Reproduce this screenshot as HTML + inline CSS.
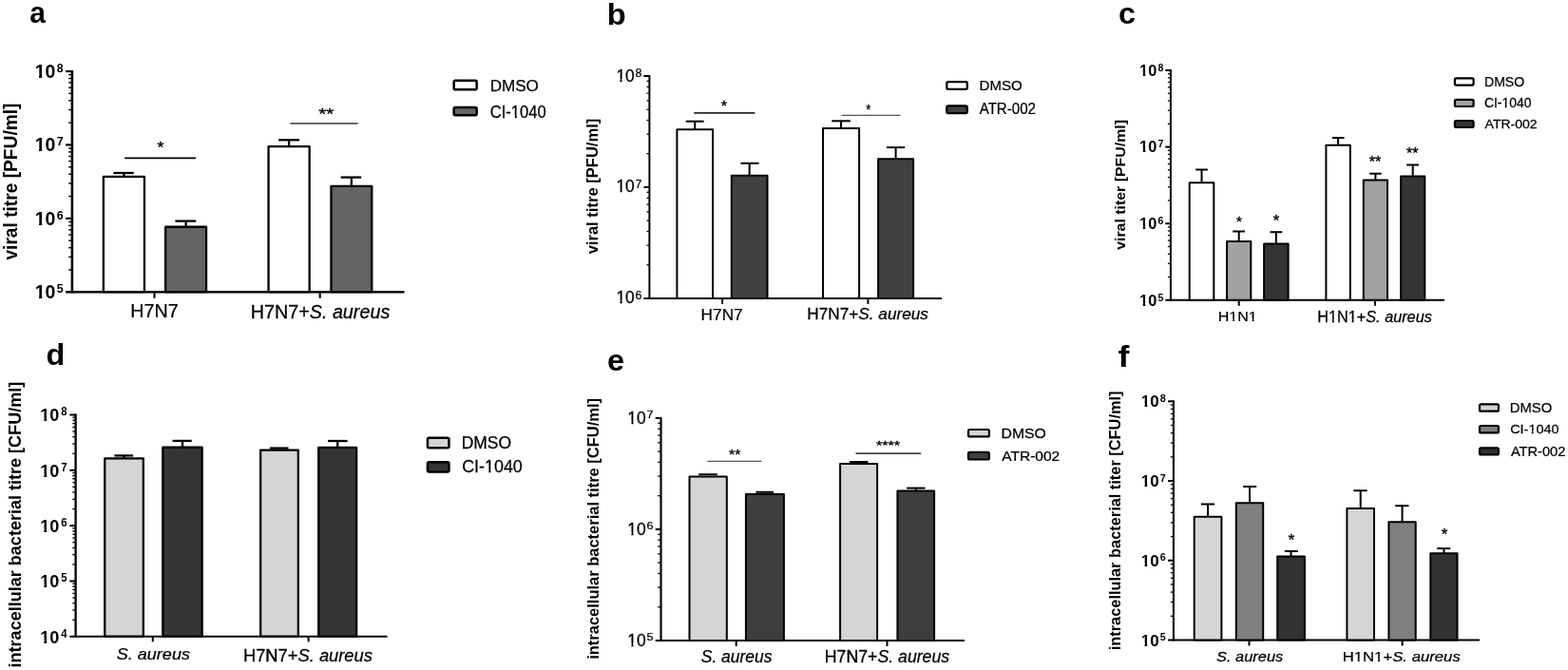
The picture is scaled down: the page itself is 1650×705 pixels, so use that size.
<!DOCTYPE html>
<html><head><meta charset="utf-8"><title>Figure</title>
<style>
html,body{margin:0;padding:0;background:#fff;}
body{width:1650px;height:705px;overflow:hidden;}
svg{display:block;font-family:'Liberation Sans', Arial, Helvetica, sans-serif;}
text{fill:#000;}
text:not([font-weight]):not([stroke]){stroke:#000;stroke-width:0.25px;}
</style></head><body>
<svg width="1650" height="705" viewBox="0 0 1650 705">
<rect width="1650" height="705" fill="#fff"/>
<line x1="75.9" y1="73.9" x2="75.9" y2="308.5" stroke="#000" stroke-width="2.6"/>
<line x1="69.1" y1="229.87" x2="75.9" y2="229.87" stroke="#000" stroke-width="2.2"/>
<line x1="69.1" y1="152.43" x2="75.9" y2="152.43" stroke="#000" stroke-width="2.2"/>
<line x1="69.1" y1="75" x2="75.9" y2="75" stroke="#000" stroke-width="2.2"/>
<line x1="72.2" y1="283.99" x2="75.9" y2="283.99" stroke="#000" stroke-width="1.4"/>
<line x1="72.2" y1="270.36" x2="75.9" y2="270.36" stroke="#000" stroke-width="1.4"/>
<line x1="72.2" y1="260.68" x2="75.9" y2="260.68" stroke="#000" stroke-width="1.4"/>
<line x1="72.2" y1="253.18" x2="75.9" y2="253.18" stroke="#000" stroke-width="1.4"/>
<line x1="72.2" y1="247.05" x2="75.9" y2="247.05" stroke="#000" stroke-width="1.4"/>
<line x1="72.2" y1="241.86" x2="75.9" y2="241.86" stroke="#000" stroke-width="1.4"/>
<line x1="72.2" y1="237.37" x2="75.9" y2="237.37" stroke="#000" stroke-width="1.4"/>
<line x1="72.2" y1="233.41" x2="75.9" y2="233.41" stroke="#000" stroke-width="1.4"/>
<line x1="72.2" y1="206.56" x2="75.9" y2="206.56" stroke="#000" stroke-width="1.4"/>
<line x1="72.2" y1="192.92" x2="75.9" y2="192.92" stroke="#000" stroke-width="1.4"/>
<line x1="72.2" y1="183.25" x2="75.9" y2="183.25" stroke="#000" stroke-width="1.4"/>
<line x1="72.2" y1="175.74" x2="75.9" y2="175.74" stroke="#000" stroke-width="1.4"/>
<line x1="72.2" y1="169.61" x2="75.9" y2="169.61" stroke="#000" stroke-width="1.4"/>
<line x1="72.2" y1="164.43" x2="75.9" y2="164.43" stroke="#000" stroke-width="1.4"/>
<line x1="72.2" y1="159.93" x2="75.9" y2="159.93" stroke="#000" stroke-width="1.4"/>
<line x1="72.2" y1="155.97" x2="75.9" y2="155.97" stroke="#000" stroke-width="1.4"/>
<line x1="72.2" y1="129.12" x2="75.9" y2="129.12" stroke="#000" stroke-width="1.4"/>
<line x1="72.2" y1="115.49" x2="75.9" y2="115.49" stroke="#000" stroke-width="1.4"/>
<line x1="72.2" y1="105.81" x2="75.9" y2="105.81" stroke="#000" stroke-width="1.4"/>
<line x1="72.2" y1="98.31" x2="75.9" y2="98.31" stroke="#000" stroke-width="1.4"/>
<line x1="72.2" y1="92.18" x2="75.9" y2="92.18" stroke="#000" stroke-width="1.4"/>
<line x1="72.2" y1="86.99" x2="75.9" y2="86.99" stroke="#000" stroke-width="1.4"/>
<line x1="72.2" y1="82.5" x2="75.9" y2="82.5" stroke="#000" stroke-width="1.4"/>
<line x1="72.2" y1="78.54" x2="75.9" y2="78.54" stroke="#000" stroke-width="1.4"/>
<line x1="69.1" y1="307.3" x2="425.5" y2="307.3" stroke="#000" stroke-width="2.4"/>
<line x1="162.5" y1="307.3" x2="162.5" y2="313.8" stroke="#000" stroke-width="2"/>
<line x1="336.7" y1="307.3" x2="336.7" y2="313.8" stroke="#000" stroke-width="2"/>
<clipPath id="c1"><rect x="-50" y="-200" width="2000" height="196.52"/><rect x="-50" y="-3.48" width="0" height="300"/><rect x="4.34" y="-3.48" width="3.07" height="300"/><rect x="11.31" y="-3.48" width="2000" height="300"/></clipPath>
<text transform="translate(36.73,314.01) scale(1.004,1)" font-size="19.44" font-weight="bold" clip-path="url(#c1)">10</text>
<text transform="translate(59.83,307.97) scale(0.927,1)" font-size="13.38" font-weight="bold">5</text>
<clipPath id="c2"><rect x="-50" y="-200" width="2000" height="196.52"/><rect x="-50" y="-3.48" width="0" height="300"/><rect x="4.34" y="-3.48" width="3.07" height="300"/><rect x="11.31" y="-3.48" width="2000" height="300"/></clipPath>
<text transform="translate(36.73,236.58) scale(1.004,1)" font-size="19.44" font-weight="bold" clip-path="url(#c2)">10</text>
<text transform="translate(59.83,230.54) scale(0.927,1)" font-size="13.38" font-weight="bold">6</text>
<clipPath id="c3"><rect x="-50" y="-200" width="2000" height="196.52"/><rect x="-50" y="-3.48" width="0" height="300"/><rect x="4.34" y="-3.48" width="3.07" height="300"/><rect x="11.31" y="-3.48" width="2000" height="300"/></clipPath>
<text transform="translate(36.73,159.14) scale(1.004,1)" font-size="19.44" font-weight="bold" clip-path="url(#c3)">10</text>
<text transform="translate(59.83,153.1) scale(0.927,1)" font-size="13.38" font-weight="bold">7</text>
<clipPath id="c4"><rect x="-50" y="-200" width="2000" height="196.52"/><rect x="-50" y="-3.48" width="0" height="300"/><rect x="4.34" y="-3.48" width="3.07" height="300"/><rect x="11.31" y="-3.48" width="2000" height="300"/></clipPath>
<text transform="translate(36.73,81.71) scale(1.004,1)" font-size="19.44" font-weight="bold" clip-path="url(#c4)">10</text>
<text transform="translate(59.83,75.67) scale(0.927,1)" font-size="13.38" font-weight="bold">8</text>
<line x1="130.4" y1="187" x2="130.4" y2="182" stroke="#000" stroke-width="2.3"/>
<line x1="119.4" y1="182" x2="140.7" y2="182" stroke="#000" stroke-width="2.3"/>
<rect x="108.85" y="185.85" width="43.1" height="121.3" fill="#fff" stroke="#000" stroke-width="2.3" stroke-linejoin="round"/>
<line x1="195.6" y1="239.9" x2="195.6" y2="232.6" stroke="#000" stroke-width="2.3"/>
<line x1="184.4" y1="232.6" x2="206.3" y2="232.6" stroke="#000" stroke-width="2.3"/>
<rect x="174.15" y="238.75" width="42.9" height="68.4" fill="#636363" stroke="#000" stroke-width="2.3" stroke-linejoin="round"/>
<line x1="304.1" y1="155.3" x2="304.1" y2="147.3" stroke="#000" stroke-width="2.3"/>
<line x1="293.2" y1="147.3" x2="315.1" y2="147.3" stroke="#000" stroke-width="2.3"/>
<rect x="282.55" y="154.15" width="43.1" height="153" fill="#fff" stroke="#000" stroke-width="2.3" stroke-linejoin="round"/>
<line x1="369.85" y1="197.1" x2="369.85" y2="186.6" stroke="#000" stroke-width="2.3"/>
<line x1="358.7" y1="186.6" x2="380.2" y2="186.6" stroke="#000" stroke-width="2.3"/>
<rect x="348.45" y="195.95" width="42.8" height="111.2" fill="#636363" stroke="#000" stroke-width="2.3" stroke-linejoin="round"/>
<line x1="131.1" y1="166.3" x2="206" y2="166.3" stroke="#000" stroke-width="1.7"/>
<line x1="305.3" y1="129.9" x2="376.7" y2="129.9" stroke="#555" stroke-width="1.6"/>
<text transform="translate(165.55,160.53) scale(1.069,1)" font-size="16.57" stroke="#000" stroke-width="0.35">*</text>
<text transform="translate(335.19,125.63) scale(1.198,1)" font-size="17.14" stroke="#000" stroke-width="0.35">**</text>
<text transform="translate(137.32,333.8) scale(1.007,1)" font-size="19.57">H7N7</text>
<text transform="translate(263.72,334.51) scale(1.024,1)" font-size="19.30">H7N7+<tspan font-style="italic">S. aureus</tspan></text>
<rect x="477.65" y="84.85" width="24" height="9.4" rx="1.5" fill="#fff" stroke="#000" stroke-width="2.5"/>
<text transform="translate(515.74,95.83)" font-size="17.04">DMSO</text>
<rect x="477.65" y="112.95" width="24" height="8.4" rx="1.5" fill="#676767" stroke="#000" stroke-width="2.5"/>
<clipPath id="c5"><rect x="-50" y="-200" width="2000" height="197.2"/><rect x="-50" y="-2.8" width="73.67" height="300"/><rect x="27.47" y="-2.8" width="1.94" height="300"/><rect x="33.08" y="-2.8" width="2000" height="300"/></clipPath>
<text transform="translate(515.77,123.93) scale(0.950,1)" font-size="17.46" clip-path="url(#c5)">CI-1040</text>
<text transform="translate(18.09,273.59) rotate(-90) scale(0.980,1)" font-size="19.57" font-weight="bold">viral titre [PFU/ml]</text>
<text transform="translate(31.3,23.79) scale(0.954,1)" font-size="31.45" font-weight="bold">a</text>
<line x1="683.4" y1="79" x2="683.4" y2="314.9" stroke="#000" stroke-width="2"/>
<line x1="677.4" y1="196.95" x2="683.4" y2="196.95" stroke="#000" stroke-width="2"/>
<line x1="677.4" y1="80" x2="683.4" y2="80" stroke="#000" stroke-width="2"/>
<line x1="680.5" y1="278.69" x2="683.4" y2="278.69" stroke="#000" stroke-width="1.3"/>
<line x1="680.5" y1="258.1" x2="683.4" y2="258.1" stroke="#000" stroke-width="1.3"/>
<line x1="680.5" y1="243.49" x2="683.4" y2="243.49" stroke="#000" stroke-width="1.3"/>
<line x1="680.5" y1="232.16" x2="683.4" y2="232.16" stroke="#000" stroke-width="1.3"/>
<line x1="680.5" y1="222.9" x2="683.4" y2="222.9" stroke="#000" stroke-width="1.3"/>
<line x1="680.5" y1="215.07" x2="683.4" y2="215.07" stroke="#000" stroke-width="1.3"/>
<line x1="680.5" y1="208.28" x2="683.4" y2="208.28" stroke="#000" stroke-width="1.3"/>
<line x1="680.5" y1="202.3" x2="683.4" y2="202.3" stroke="#000" stroke-width="1.3"/>
<line x1="680.5" y1="161.74" x2="683.4" y2="161.74" stroke="#000" stroke-width="1.3"/>
<line x1="680.5" y1="141.15" x2="683.4" y2="141.15" stroke="#000" stroke-width="1.3"/>
<line x1="680.5" y1="126.54" x2="683.4" y2="126.54" stroke="#000" stroke-width="1.3"/>
<line x1="680.5" y1="115.21" x2="683.4" y2="115.21" stroke="#000" stroke-width="1.3"/>
<line x1="680.5" y1="105.95" x2="683.4" y2="105.95" stroke="#000" stroke-width="1.3"/>
<line x1="680.5" y1="98.12" x2="683.4" y2="98.12" stroke="#000" stroke-width="1.3"/>
<line x1="680.5" y1="91.33" x2="683.4" y2="91.33" stroke="#000" stroke-width="1.3"/>
<line x1="680.5" y1="85.35" x2="683.4" y2="85.35" stroke="#000" stroke-width="1.3"/>
<line x1="677.4" y1="313.9" x2="991" y2="313.9" stroke="#000" stroke-width="2"/>
<line x1="760.1" y1="313.9" x2="760.1" y2="319.9" stroke="#000" stroke-width="2"/>
<line x1="913.4" y1="313.9" x2="913.4" y2="319.9" stroke="#000" stroke-width="2"/>
<clipPath id="c6"><rect x="-50" y="-200" width="2000" height="197.17"/><rect x="-50" y="-2.83" width="0" height="300"/><rect x="4.26" y="-2.83" width="1.97" height="300"/><rect x="9.96" y="-2.83" width="2000" height="300"/></clipPath>
<text transform="translate(648.41,319.42) scale(0.979,1)" font-size="17.75" clip-path="url(#c6)">10</text>
<text transform="translate(668.61,314.58) scale(1.019,1)" font-size="12.11">6</text>
<clipPath id="c7"><rect x="-50" y="-200" width="2000" height="197.17"/><rect x="-50" y="-2.83" width="0" height="300"/><rect x="4.26" y="-2.83" width="1.97" height="300"/><rect x="9.96" y="-2.83" width="2000" height="300"/></clipPath>
<text transform="translate(648.41,202.47) scale(0.979,1)" font-size="17.75" clip-path="url(#c7)">10</text>
<text transform="translate(668.61,197.63) scale(1.019,1)" font-size="12.11">7</text>
<clipPath id="c8"><rect x="-50" y="-200" width="2000" height="197.17"/><rect x="-50" y="-2.83" width="0" height="300"/><rect x="4.26" y="-2.83" width="1.97" height="300"/><rect x="9.96" y="-2.83" width="2000" height="300"/></clipPath>
<text transform="translate(648.41,85.52) scale(0.979,1)" font-size="17.75" clip-path="url(#c8)">10</text>
<text transform="translate(668.61,80.68) scale(1.019,1)" font-size="12.11">8</text>
<line x1="731.25" y1="137.2" x2="731.25" y2="127.7" stroke="#000" stroke-width="2"/>
<line x1="721.7" y1="127.7" x2="740.7" y2="127.7" stroke="#000" stroke-width="2"/>
<rect x="712.4" y="136.2" width="37.7" height="177.7" fill="#fff" stroke="#000" stroke-width="2" stroke-linejoin="round"/>
<line x1="788.65" y1="185.7" x2="788.65" y2="171.8" stroke="#000" stroke-width="2"/>
<line x1="779.5" y1="171.8" x2="798.6" y2="171.8" stroke="#000" stroke-width="2"/>
<rect x="769.8" y="184.7" width="37.7" height="129.2" fill="#414141" stroke="#000" stroke-width="2" stroke-linejoin="round"/>
<line x1="885.05" y1="136" x2="885.05" y2="127.3" stroke="#000" stroke-width="2"/>
<line x1="875.3" y1="127.3" x2="894.8" y2="127.3" stroke="#000" stroke-width="2"/>
<rect x="866" y="135" width="38.1" height="178.9" fill="#fff" stroke="#000" stroke-width="2" stroke-linejoin="round"/>
<line x1="942.6" y1="168.2" x2="942.6" y2="155.1" stroke="#000" stroke-width="2"/>
<line x1="933" y1="155.1" x2="952.2" y2="155.1" stroke="#000" stroke-width="2"/>
<rect x="924.1" y="167.2" width="37" height="146.7" fill="#414141" stroke="#000" stroke-width="2" stroke-linejoin="round"/>
<line x1="730.3" y1="118.9" x2="794.4" y2="118.9" stroke="#282828" stroke-width="1.8"/>
<line x1="885.5" y1="121.4" x2="947.5" y2="121.4" stroke="#555" stroke-width="1.2"/>
<text transform="translate(758.67,116.16) scale(1.184,1)" font-size="14.00" stroke="#000" stroke-width="0.35">*</text>
<text transform="translate(911.14,119.76) scale(0.920,1)" font-size="14.29" stroke="#000" stroke-width="0.35">*</text>
<text transform="translate(737.62,336.5) scale(1.017,1)" font-size="16.96">H7N7</text>
<text transform="translate(849.32,336.34) scale(1.044,1)" font-size="16.48">H7N7+<tspan font-style="italic">S. aureus</tspan></text>
<rect x="996.3" y="86.1" width="21.5" height="7.7" rx="1.5" fill="#fff" stroke="#000" stroke-width="2.2"/>
<text transform="translate(1030.6,94.95) scale(1.015,1)" font-size="14.79">DMSO</text>
<rect x="996.3" y="111.4" width="21.5" height="7.7" rx="1.5" fill="#414141" stroke="#000" stroke-width="2.2"/>
<text transform="translate(1030.7,120.34) scale(0.947,1)" font-size="15.92">ATR-002</text>
<text transform="translate(628.84,267.37) rotate(-90) scale(1.006,1)" font-size="16.49" font-weight="bold">viral titre [PFU/ml]</text>
<text transform="translate(638.72,25.6) scale(1.058,1)" font-size="30.82" font-weight="bold">b</text>
<line x1="1231.9" y1="73" x2="1231.9" y2="316.8" stroke="#000" stroke-width="2"/>
<line x1="1226.3" y1="235.2" x2="1231.9" y2="235.2" stroke="#000" stroke-width="2"/>
<line x1="1226.3" y1="154.6" x2="1231.9" y2="154.6" stroke="#000" stroke-width="2"/>
<line x1="1226.3" y1="74" x2="1231.9" y2="74" stroke="#000" stroke-width="2"/>
<line x1="1228.9" y1="291.54" x2="1231.9" y2="291.54" stroke="#000" stroke-width="1.3"/>
<line x1="1228.9" y1="277.34" x2="1231.9" y2="277.34" stroke="#000" stroke-width="1.3"/>
<line x1="1228.9" y1="267.27" x2="1231.9" y2="267.27" stroke="#000" stroke-width="1.3"/>
<line x1="1228.9" y1="259.46" x2="1231.9" y2="259.46" stroke="#000" stroke-width="1.3"/>
<line x1="1228.9" y1="253.08" x2="1231.9" y2="253.08" stroke="#000" stroke-width="1.3"/>
<line x1="1228.9" y1="247.69" x2="1231.9" y2="247.69" stroke="#000" stroke-width="1.3"/>
<line x1="1228.9" y1="243.01" x2="1231.9" y2="243.01" stroke="#000" stroke-width="1.3"/>
<line x1="1228.9" y1="238.89" x2="1231.9" y2="238.89" stroke="#000" stroke-width="1.3"/>
<line x1="1228.9" y1="210.94" x2="1231.9" y2="210.94" stroke="#000" stroke-width="1.3"/>
<line x1="1228.9" y1="196.74" x2="1231.9" y2="196.74" stroke="#000" stroke-width="1.3"/>
<line x1="1228.9" y1="186.67" x2="1231.9" y2="186.67" stroke="#000" stroke-width="1.3"/>
<line x1="1228.9" y1="178.86" x2="1231.9" y2="178.86" stroke="#000" stroke-width="1.3"/>
<line x1="1228.9" y1="172.48" x2="1231.9" y2="172.48" stroke="#000" stroke-width="1.3"/>
<line x1="1228.9" y1="167.09" x2="1231.9" y2="167.09" stroke="#000" stroke-width="1.3"/>
<line x1="1228.9" y1="162.41" x2="1231.9" y2="162.41" stroke="#000" stroke-width="1.3"/>
<line x1="1228.9" y1="158.29" x2="1231.9" y2="158.29" stroke="#000" stroke-width="1.3"/>
<line x1="1228.9" y1="130.34" x2="1231.9" y2="130.34" stroke="#000" stroke-width="1.3"/>
<line x1="1228.9" y1="116.14" x2="1231.9" y2="116.14" stroke="#000" stroke-width="1.3"/>
<line x1="1228.9" y1="106.07" x2="1231.9" y2="106.07" stroke="#000" stroke-width="1.3"/>
<line x1="1228.9" y1="98.26" x2="1231.9" y2="98.26" stroke="#000" stroke-width="1.3"/>
<line x1="1228.9" y1="91.88" x2="1231.9" y2="91.88" stroke="#000" stroke-width="1.3"/>
<line x1="1228.9" y1="86.49" x2="1231.9" y2="86.49" stroke="#000" stroke-width="1.3"/>
<line x1="1228.9" y1="81.81" x2="1231.9" y2="81.81" stroke="#000" stroke-width="1.3"/>
<line x1="1228.9" y1="77.69" x2="1231.9" y2="77.69" stroke="#000" stroke-width="1.3"/>
<line x1="1226.3" y1="315.8" x2="1520" y2="315.8" stroke="#000" stroke-width="2"/>
<line x1="1303.7" y1="315.8" x2="1303.7" y2="321.8" stroke="#000" stroke-width="2"/>
<line x1="1447" y1="315.8" x2="1447" y2="321.8" stroke="#000" stroke-width="2"/>
<clipPath id="c9"><rect x="-50" y="-200" width="2000" height="196.79"/><rect x="-50" y="-3.21" width="0" height="300"/><rect x="3.71" y="-3.21" width="2.7" height="300"/><rect x="9.76" y="-3.21" width="2000" height="300"/></clipPath>
<text transform="translate(1199.12,321.53) scale(0.975,1)" font-size="16.76" font-weight="bold" clip-path="url(#c9)">10</text>
<text transform="translate(1218.48,316.59) scale(0.953,1)" font-size="11.13" font-weight="bold">5</text>
<clipPath id="c10"><rect x="-50" y="-200" width="2000" height="196.79"/><rect x="-50" y="-3.21" width="0" height="300"/><rect x="3.71" y="-3.21" width="2.7" height="300"/><rect x="9.76" y="-3.21" width="2000" height="300"/></clipPath>
<text transform="translate(1199.12,240.93) scale(0.975,1)" font-size="16.76" font-weight="bold" clip-path="url(#c10)">10</text>
<text transform="translate(1218.48,235.99) scale(0.953,1)" font-size="11.13" font-weight="bold">6</text>
<clipPath id="c11"><rect x="-50" y="-200" width="2000" height="196.79"/><rect x="-50" y="-3.21" width="0" height="300"/><rect x="3.71" y="-3.21" width="2.7" height="300"/><rect x="9.76" y="-3.21" width="2000" height="300"/></clipPath>
<text transform="translate(1199.12,160.33) scale(0.975,1)" font-size="16.76" font-weight="bold" clip-path="url(#c11)">10</text>
<text transform="translate(1218.48,155.39) scale(0.953,1)" font-size="11.13" font-weight="bold">7</text>
<clipPath id="c12"><rect x="-50" y="-200" width="2000" height="196.79"/><rect x="-50" y="-3.21" width="0" height="300"/><rect x="3.71" y="-3.21" width="2.7" height="300"/><rect x="9.76" y="-3.21" width="2000" height="300"/></clipPath>
<text transform="translate(1199.12,79.73) scale(0.975,1)" font-size="16.76" font-weight="bold" clip-path="url(#c12)">10</text>
<text transform="translate(1218.48,74.79) scale(0.953,1)" font-size="11.13" font-weight="bold">8</text>
<line x1="1264.5" y1="193.3" x2="1264.5" y2="178.5" stroke="#000" stroke-width="2"/>
<line x1="1258.2" y1="178.5" x2="1270.8" y2="178.5" stroke="#000" stroke-width="2"/>
<rect x="1251.7" y="192.3" width="25.6" height="123.5" fill="#fff" stroke="#000" stroke-width="2" stroke-linejoin="round"/>
<line x1="1303.7" y1="255" x2="1303.7" y2="243.5" stroke="#000" stroke-width="2"/>
<line x1="1297.2" y1="243.5" x2="1310" y2="243.5" stroke="#000" stroke-width="2"/>
<rect x="1291.1" y="254" width="25.2" height="61.8" fill="#a2a2a2" stroke="#000" stroke-width="2" stroke-linejoin="round"/>
<line x1="1342.85" y1="257.4" x2="1342.85" y2="244.2" stroke="#000" stroke-width="2"/>
<line x1="1336.5" y1="244.2" x2="1349.3" y2="244.2" stroke="#000" stroke-width="2"/>
<rect x="1330.1" y="256.4" width="25.5" height="59.4" fill="#343434" stroke="#000" stroke-width="2" stroke-linejoin="round"/>
<line x1="1408.1" y1="153.7" x2="1408.1" y2="145.1" stroke="#000" stroke-width="2"/>
<line x1="1401.9" y1="145.1" x2="1414.5" y2="145.1" stroke="#000" stroke-width="2"/>
<rect x="1395.4" y="152.7" width="25.4" height="163.1" fill="#fff" stroke="#000" stroke-width="2" stroke-linejoin="round"/>
<line x1="1447.4" y1="190.5" x2="1447.4" y2="182.7" stroke="#000" stroke-width="2"/>
<line x1="1441.2" y1="182.7" x2="1453.7" y2="182.7" stroke="#000" stroke-width="2"/>
<rect x="1434.8" y="189.5" width="25.2" height="126.3" fill="#a2a2a2" stroke="#000" stroke-width="2" stroke-linejoin="round"/>
<line x1="1486.7" y1="186.6" x2="1486.7" y2="173.5" stroke="#000" stroke-width="2"/>
<line x1="1480.2" y1="173.5" x2="1493" y2="173.5" stroke="#000" stroke-width="2"/>
<rect x="1474.1" y="185.6" width="25.2" height="130.2" fill="#343434" stroke="#000" stroke-width="2" stroke-linejoin="round"/>
<text transform="translate(1300.87,237.85) scale(1.075,1)" font-size="15.14" stroke="#000" stroke-width="0.35">*</text>
<text transform="translate(1339.67,238.24) scale(1.018,1)" font-size="16.29" stroke="#000" stroke-width="0.35">*</text>
<text transform="translate(1440.78,175.94) scale(1.032,1)" font-size="15.71" stroke="#000" stroke-width="0.35">**</text>
<text transform="translate(1479.88,167.04) scale(1.023,1)" font-size="15.71" stroke="#000" stroke-width="0.35">**</text>
<clipPath id="c13"><rect x="-50" y="-200" width="2000" height="197.36"/><rect x="-50" y="-2.64" width="61.33" height="300"/><rect x="14.62" y="-2.64" width="1.74" height="300"/><rect x="19.53" y="-2.64" width="11.26" height="300"/><rect x="34.07" y="-2.64" width="1.74" height="300"/><rect x="38.98" y="-2.64" width="2000" height="300"/></clipPath>
<text transform="translate(1281.71,337.7) scale(1.057,1)" font-size="15.22" clip-path="url(#c13)">H1N1</text>
<clipPath id="c14"><rect x="-50" y="-200" width="2000" height="197.32"/><rect x="-50" y="-2.68" width="61.75" height="300"/><rect x="15.16" y="-2.68" width="1.79" height="300"/><rect x="20.24" y="-2.68" width="11.67" height="300"/><rect x="35.32" y="-2.68" width="1.79" height="300"/><rect x="40.41" y="-2.68" width="2000" height="300"/></clipPath>
<text transform="translate(1386.3,338.64) scale(1.030,1)" font-size="15.77" clip-path="url(#c14)">H1N1+<tspan font-style="italic">S. aureus</tspan></text>
<rect x="1530.9" y="82.3" width="19.7" height="7.3" rx="1.5" fill="#fff" stroke="#000" stroke-width="2.2"/>
<text transform="translate(1561.97,91.16) scale(0.990,1)" font-size="14.23">DMSO</text>
<rect x="1530.9" y="104.8" width="19.7" height="7.2" rx="1.5" fill="#a2a2a2" stroke="#000" stroke-width="2.2"/>
<clipPath id="c15"><rect x="-50" y="-200" width="2000" height="197.44"/><rect x="-50" y="-2.56" width="69.28" height="300"/><rect x="22.34" y="-2.56" width="1.66" height="300"/><rect x="26.94" y="-2.56" width="2000" height="300"/></clipPath>
<text transform="translate(1561.9,113.46) scale(0.981,1)" font-size="14.23" clip-path="url(#c15)">CI-1040</text>
<rect x="1530.9" y="127" width="19.7" height="7" rx="1.5" fill="#343434" stroke="#000" stroke-width="2.2"/>
<text transform="translate(1562.6,134.97) scale(1.082,1)" font-size="12.96">ATR-002</text>
<text transform="translate(1184.36,262.86) rotate(-90) scale(1.030,1)" font-size="15.43" font-weight="bold">viral titer [PFU/ml]</text>
<text transform="translate(1176.91,25.48) scale(1.008,1)" font-size="32.00" font-weight="bold">c</text>
<line x1="79.6" y1="435.5" x2="79.6" y2="670.8" stroke="#000" stroke-width="2.3"/>
<line x1="73.3" y1="611.48" x2="79.6" y2="611.48" stroke="#000" stroke-width="2"/>
<line x1="73.3" y1="553.15" x2="79.6" y2="553.15" stroke="#000" stroke-width="2"/>
<line x1="73.3" y1="494.83" x2="79.6" y2="494.83" stroke="#000" stroke-width="2"/>
<line x1="73.3" y1="436.5" x2="79.6" y2="436.5" stroke="#000" stroke-width="2"/>
<line x1="76.3" y1="652.24" x2="79.6" y2="652.24" stroke="#000" stroke-width="1.3"/>
<line x1="76.3" y1="641.97" x2="79.6" y2="641.97" stroke="#000" stroke-width="1.3"/>
<line x1="76.3" y1="634.69" x2="79.6" y2="634.69" stroke="#000" stroke-width="1.3"/>
<line x1="76.3" y1="629.04" x2="79.6" y2="629.04" stroke="#000" stroke-width="1.3"/>
<line x1="76.3" y1="624.42" x2="79.6" y2="624.42" stroke="#000" stroke-width="1.3"/>
<line x1="76.3" y1="620.51" x2="79.6" y2="620.51" stroke="#000" stroke-width="1.3"/>
<line x1="76.3" y1="617.13" x2="79.6" y2="617.13" stroke="#000" stroke-width="1.3"/>
<line x1="76.3" y1="614.15" x2="79.6" y2="614.15" stroke="#000" stroke-width="1.3"/>
<line x1="76.3" y1="593.92" x2="79.6" y2="593.92" stroke="#000" stroke-width="1.3"/>
<line x1="76.3" y1="583.65" x2="79.6" y2="583.65" stroke="#000" stroke-width="1.3"/>
<line x1="76.3" y1="576.36" x2="79.6" y2="576.36" stroke="#000" stroke-width="1.3"/>
<line x1="76.3" y1="570.71" x2="79.6" y2="570.71" stroke="#000" stroke-width="1.3"/>
<line x1="76.3" y1="566.09" x2="79.6" y2="566.09" stroke="#000" stroke-width="1.3"/>
<line x1="76.3" y1="562.19" x2="79.6" y2="562.19" stroke="#000" stroke-width="1.3"/>
<line x1="76.3" y1="558.8" x2="79.6" y2="558.8" stroke="#000" stroke-width="1.3"/>
<line x1="76.3" y1="555.82" x2="79.6" y2="555.82" stroke="#000" stroke-width="1.3"/>
<line x1="76.3" y1="535.59" x2="79.6" y2="535.59" stroke="#000" stroke-width="1.3"/>
<line x1="76.3" y1="525.32" x2="79.6" y2="525.32" stroke="#000" stroke-width="1.3"/>
<line x1="76.3" y1="518.04" x2="79.6" y2="518.04" stroke="#000" stroke-width="1.3"/>
<line x1="76.3" y1="512.39" x2="79.6" y2="512.39" stroke="#000" stroke-width="1.3"/>
<line x1="76.3" y1="507.77" x2="79.6" y2="507.77" stroke="#000" stroke-width="1.3"/>
<line x1="76.3" y1="503.86" x2="79.6" y2="503.86" stroke="#000" stroke-width="1.3"/>
<line x1="76.3" y1="500.48" x2="79.6" y2="500.48" stroke="#000" stroke-width="1.3"/>
<line x1="76.3" y1="497.5" x2="79.6" y2="497.5" stroke="#000" stroke-width="1.3"/>
<line x1="76.3" y1="477.27" x2="79.6" y2="477.27" stroke="#000" stroke-width="1.3"/>
<line x1="76.3" y1="467" x2="79.6" y2="467" stroke="#000" stroke-width="1.3"/>
<line x1="76.3" y1="459.71" x2="79.6" y2="459.71" stroke="#000" stroke-width="1.3"/>
<line x1="76.3" y1="454.06" x2="79.6" y2="454.06" stroke="#000" stroke-width="1.3"/>
<line x1="76.3" y1="449.44" x2="79.6" y2="449.44" stroke="#000" stroke-width="1.3"/>
<line x1="76.3" y1="445.54" x2="79.6" y2="445.54" stroke="#000" stroke-width="1.3"/>
<line x1="76.3" y1="442.15" x2="79.6" y2="442.15" stroke="#000" stroke-width="1.3"/>
<line x1="76.3" y1="439.17" x2="79.6" y2="439.17" stroke="#000" stroke-width="1.3"/>
<line x1="73.3" y1="669.8" x2="407.5" y2="669.8" stroke="#000" stroke-width="2"/>
<line x1="160.8" y1="669.8" x2="160.8" y2="675.3" stroke="#000" stroke-width="2"/>
<line x1="324.6" y1="669.8" x2="324.6" y2="675.3" stroke="#000" stroke-width="2"/>
<clipPath id="c16"><rect x="-50" y="-200" width="2000" height="196.59"/><rect x="-50" y="-3.41" width="0" height="300"/><rect x="4.17" y="-3.41" width="2.97" height="300"/><rect x="10.9" y="-3.41" width="2000" height="300"/></clipPath>
<text transform="translate(42.31,676.71) scale(0.967,1)" font-size="18.73" font-weight="bold" clip-path="url(#c16)">10</text>
<text transform="translate(64.16,670.78) scale(0.920,1)" font-size="12.39" font-weight="bold">4</text>
<clipPath id="c17"><rect x="-50" y="-200" width="2000" height="196.59"/><rect x="-50" y="-3.41" width="0" height="300"/><rect x="4.17" y="-3.41" width="2.97" height="300"/><rect x="10.9" y="-3.41" width="2000" height="300"/></clipPath>
<text transform="translate(42.31,618.39) scale(0.967,1)" font-size="18.73" font-weight="bold" clip-path="url(#c17)">10</text>
<text transform="translate(64.16,612.46) scale(0.920,1)" font-size="12.39" font-weight="bold">5</text>
<clipPath id="c18"><rect x="-50" y="-200" width="2000" height="196.59"/><rect x="-50" y="-3.41" width="0" height="300"/><rect x="4.17" y="-3.41" width="2.97" height="300"/><rect x="10.9" y="-3.41" width="2000" height="300"/></clipPath>
<text transform="translate(42.31,560.06) scale(0.967,1)" font-size="18.73" font-weight="bold" clip-path="url(#c18)">10</text>
<text transform="translate(64.16,554.13) scale(0.920,1)" font-size="12.39" font-weight="bold">6</text>
<clipPath id="c19"><rect x="-50" y="-200" width="2000" height="196.59"/><rect x="-50" y="-3.41" width="0" height="300"/><rect x="4.17" y="-3.41" width="2.97" height="300"/><rect x="10.9" y="-3.41" width="2000" height="300"/></clipPath>
<text transform="translate(42.31,501.74) scale(0.967,1)" font-size="18.73" font-weight="bold" clip-path="url(#c19)">10</text>
<text transform="translate(64.16,495.81) scale(0.920,1)" font-size="12.39" font-weight="bold">7</text>
<clipPath id="c20"><rect x="-50" y="-200" width="2000" height="196.59"/><rect x="-50" y="-3.41" width="0" height="300"/><rect x="4.17" y="-3.41" width="2.97" height="300"/><rect x="10.9" y="-3.41" width="2000" height="300"/></clipPath>
<text transform="translate(42.31,443.41) scale(0.967,1)" font-size="18.73" font-weight="bold" clip-path="url(#c20)">10</text>
<text transform="translate(64.16,437.48) scale(0.920,1)" font-size="12.39" font-weight="bold">8</text>
<line x1="130.55" y1="483.6" x2="130.55" y2="479.4" stroke="#000" stroke-width="2.3"/>
<line x1="120.4" y1="479.4" x2="140.1" y2="479.4" stroke="#000" stroke-width="2.3"/>
<rect x="110.25" y="482.45" width="40.6" height="187.2" fill="#d5d5d5" stroke="#000" stroke-width="2.3" stroke-linejoin="round"/>
<line x1="192" y1="471.9" x2="192" y2="463.9" stroke="#000" stroke-width="2.3"/>
<line x1="181.5" y1="463.9" x2="201.7" y2="463.9" stroke="#000" stroke-width="2.3"/>
<rect x="171.35" y="470.75" width="41.3" height="198.9" fill="#353535" stroke="#000" stroke-width="2.3" stroke-linejoin="round"/>
<line x1="283.9" y1="471.6" x2="303.5" y2="471.6" stroke="#000" stroke-width="2.3"/>
<rect x="274.15" y="473.65" width="39.7" height="196" fill="#d5d5d5" stroke="#000" stroke-width="2.3" stroke-linejoin="round"/>
<line x1="355.2" y1="472.1" x2="355.2" y2="464" stroke="#000" stroke-width="2.3"/>
<line x1="345" y1="464" x2="365.7" y2="464" stroke="#000" stroke-width="2.3"/>
<rect x="335.25" y="470.95" width="39.9" height="198.7" fill="#353535" stroke="#000" stroke-width="2.3" stroke-linejoin="round"/>
<text transform="translate(122.76,694.33) scale(1.067,1)" font-size="16.90"><tspan font-style="italic">S. aureus</tspan></text>
<text transform="translate(255.93,695.61) scale(0.979,1)" font-size="18.73">H7<tspan stroke="#000" stroke-width="0.5">N</tspan>7+<tspan font-style="italic">S. aureus</tspan></text>
<rect x="449.95" y="460.85" width="22.5" height="10.5" rx="1.5" fill="#d5d5d5" stroke="#000" stroke-width="2.5"/>
<text transform="translate(485.7,472.13)" font-size="17.46">DMSO</text>
<rect x="449.95" y="486.15" width="22.5" height="10.4" rx="1.5" fill="#353535" stroke="#000" stroke-width="2.5"/>
<clipPath id="c21"><rect x="-50" y="-200" width="2000" height="197.09"/><rect x="-50" y="-2.91" width="75.58" height="300"/><rect x="29.7" y="-2.91" width="2.07" height="300"/><rect x="35.75" y="-2.91" width="2000" height="300"/></clipPath>
<text transform="translate(486.21,497.41) scale(0.948,1)" font-size="18.87" clip-path="url(#c21)">CI-1040</text>
<text transform="translate(21.89,702.46) rotate(-90) scale(1.022,1)" font-size="17.66" font-weight="bold">intracellular bacterial titre [CFU/ml]</text>
<text transform="translate(48.6,383.8) scale(1.037,1)" font-size="31.23" font-weight="bold">d</text>
<line x1="695.5" y1="438.9" x2="695.5" y2="674.9" stroke="#000" stroke-width="2.2"/>
<line x1="689.7" y1="556.9" x2="695.5" y2="556.9" stroke="#000" stroke-width="2"/>
<line x1="689.7" y1="439.9" x2="695.5" y2="439.9" stroke="#000" stroke-width="2"/>
<line x1="692.2" y1="638.68" x2="695.5" y2="638.68" stroke="#000" stroke-width="1.3"/>
<line x1="692.2" y1="618.08" x2="695.5" y2="618.08" stroke="#000" stroke-width="1.3"/>
<line x1="692.2" y1="603.46" x2="695.5" y2="603.46" stroke="#000" stroke-width="1.3"/>
<line x1="692.2" y1="592.12" x2="695.5" y2="592.12" stroke="#000" stroke-width="1.3"/>
<line x1="692.2" y1="582.86" x2="695.5" y2="582.86" stroke="#000" stroke-width="1.3"/>
<line x1="692.2" y1="575.02" x2="695.5" y2="575.02" stroke="#000" stroke-width="1.3"/>
<line x1="692.2" y1="568.24" x2="695.5" y2="568.24" stroke="#000" stroke-width="1.3"/>
<line x1="692.2" y1="562.25" x2="695.5" y2="562.25" stroke="#000" stroke-width="1.3"/>
<line x1="692.2" y1="521.68" x2="695.5" y2="521.68" stroke="#000" stroke-width="1.3"/>
<line x1="692.2" y1="501.08" x2="695.5" y2="501.08" stroke="#000" stroke-width="1.3"/>
<line x1="692.2" y1="486.46" x2="695.5" y2="486.46" stroke="#000" stroke-width="1.3"/>
<line x1="692.2" y1="475.12" x2="695.5" y2="475.12" stroke="#000" stroke-width="1.3"/>
<line x1="692.2" y1="465.86" x2="695.5" y2="465.86" stroke="#000" stroke-width="1.3"/>
<line x1="692.2" y1="458.02" x2="695.5" y2="458.02" stroke="#000" stroke-width="1.3"/>
<line x1="692.2" y1="451.24" x2="695.5" y2="451.24" stroke="#000" stroke-width="1.3"/>
<line x1="692.2" y1="445.25" x2="695.5" y2="445.25" stroke="#000" stroke-width="1.3"/>
<line x1="689.7" y1="673.9" x2="1015" y2="673.9" stroke="#000" stroke-width="2"/>
<line x1="774.7" y1="673.9" x2="774.7" y2="679.9" stroke="#000" stroke-width="2"/>
<line x1="933.5" y1="673.9" x2="933.5" y2="679.9" stroke="#000" stroke-width="2"/>
<clipPath id="c22"><rect x="-50" y="-200" width="2000" height="197.17"/><rect x="-50" y="-2.83" width="0" height="300"/><rect x="4.26" y="-2.83" width="1.97" height="300"/><rect x="9.96" y="-2.83" width="2000" height="300"/></clipPath>
<text transform="translate(660.3,679.72) scale(0.985,1)" font-size="17.75" clip-path="url(#c22)">10</text>
<text transform="translate(680.47,674.32) scale(1.085,1)" font-size="11.62">5</text>
<clipPath id="c23"><rect x="-50" y="-200" width="2000" height="197.17"/><rect x="-50" y="-2.83" width="0" height="300"/><rect x="4.26" y="-2.83" width="1.97" height="300"/><rect x="9.96" y="-2.83" width="2000" height="300"/></clipPath>
<text transform="translate(660.3,562.72) scale(0.985,1)" font-size="17.75" clip-path="url(#c23)">10</text>
<text transform="translate(680.47,557.32) scale(1.085,1)" font-size="11.62">6</text>
<clipPath id="c24"><rect x="-50" y="-200" width="2000" height="197.17"/><rect x="-50" y="-2.83" width="0" height="300"/><rect x="4.26" y="-2.83" width="1.97" height="300"/><rect x="9.96" y="-2.83" width="2000" height="300"/></clipPath>
<text transform="translate(660.3,445.72) scale(0.985,1)" font-size="17.75" clip-path="url(#c24)">10</text>
<text transform="translate(680.47,440.32) scale(1.085,1)" font-size="11.62">7</text>
<line x1="735.2" y1="499.2" x2="754.9" y2="499.2" stroke="#000" stroke-width="2"/>
<rect x="725.5" y="501.6" width="39.3" height="172.3" fill="#d5d5d5" stroke="#000" stroke-width="2" stroke-linejoin="round"/>
<line x1="795.4" y1="517.8" x2="814" y2="517.8" stroke="#000" stroke-width="2"/>
<rect x="784.9" y="520.1" width="40" height="153.8" fill="#3e3e3e" stroke="#000" stroke-width="2" stroke-linejoin="round"/>
<line x1="893.9" y1="486" x2="913.4" y2="486" stroke="#000" stroke-width="2"/>
<rect x="884.1" y="487.9" width="39" height="186" fill="#d5d5d5" stroke="#000" stroke-width="2" stroke-linejoin="round"/>
<line x1="963.75" y1="517.5" x2="963.75" y2="513.6" stroke="#000" stroke-width="2"/>
<line x1="954.1" y1="513.6" x2="973.5" y2="513.6" stroke="#000" stroke-width="2"/>
<rect x="944.4" y="516.5" width="38.7" height="157.4" fill="#3e3e3e" stroke="#000" stroke-width="2" stroke-linejoin="round"/>
<line x1="744.5" y1="485.4" x2="801.2" y2="485.4" stroke="#555" stroke-width="1.3"/>
<line x1="900.5" y1="477.1" x2="969.2" y2="477.1" stroke="#444" stroke-width="1.6"/>
<text transform="translate(766.98,482.66) scale(1.107,1)" font-size="14.29" stroke="#000" stroke-width="0.35">**</text>
<text transform="translate(921.98,473.17) scale(1.231,1)" font-size="13.14" stroke="#000" stroke-width="0.35">****</text>
<text transform="translate(737.78,696.63)" font-size="17.46"><tspan font-style="italic">S. aureus</tspan></text>
<text transform="translate(867.78,696.63) scale(1.014,1)" font-size="17.46">H7<tspan stroke="#000" stroke-width="0.5">N</tspan>7+<tspan font-style="italic">S. aureus</tspan></text>
<rect x="1019" y="452" width="21.9" height="7.4" rx="1.5" fill="#d5d5d5" stroke="#000" stroke-width="2.2"/>
<text transform="translate(1053.54,461.05) scale(1.088,1)" font-size="14.51">DMSO</text>
<rect x="1019" y="475.8" width="21.9" height="7.7" rx="1.5" fill="#3e3e3e" stroke="#000" stroke-width="2.2"/>
<text transform="translate(1054.3,484.75) scale(1.041,1)" font-size="14.93">ATR-002</text>
<text transform="translate(629.98,693.85) rotate(-90) scale(1.014,1)" font-size="16.28" font-weight="bold">intracellular bacterial titre [CFU/ml]</text>
<text transform="translate(638.9,390.49) scale(1.058,1)" font-size="30.73" font-weight="bold">e</text>
<line x1="1234.9" y1="421.3" x2="1234.9" y2="674.5" stroke="#000" stroke-width="2.1"/>
<line x1="1229" y1="589.77" x2="1234.9" y2="589.77" stroke="#000" stroke-width="2"/>
<line x1="1229" y1="506.03" x2="1234.9" y2="506.03" stroke="#000" stroke-width="2"/>
<line x1="1229" y1="422.3" x2="1234.9" y2="422.3" stroke="#000" stroke-width="2"/>
<line x1="1231.8" y1="648.29" x2="1234.9" y2="648.29" stroke="#000" stroke-width="1.3"/>
<line x1="1231.8" y1="633.55" x2="1234.9" y2="633.55" stroke="#000" stroke-width="1.3"/>
<line x1="1231.8" y1="623.09" x2="1234.9" y2="623.09" stroke="#000" stroke-width="1.3"/>
<line x1="1231.8" y1="614.98" x2="1234.9" y2="614.98" stroke="#000" stroke-width="1.3"/>
<line x1="1231.8" y1="608.35" x2="1234.9" y2="608.35" stroke="#000" stroke-width="1.3"/>
<line x1="1231.8" y1="602.74" x2="1234.9" y2="602.74" stroke="#000" stroke-width="1.3"/>
<line x1="1231.8" y1="597.88" x2="1234.9" y2="597.88" stroke="#000" stroke-width="1.3"/>
<line x1="1231.8" y1="593.6" x2="1234.9" y2="593.6" stroke="#000" stroke-width="1.3"/>
<line x1="1231.8" y1="564.56" x2="1234.9" y2="564.56" stroke="#000" stroke-width="1.3"/>
<line x1="1231.8" y1="549.82" x2="1234.9" y2="549.82" stroke="#000" stroke-width="1.3"/>
<line x1="1231.8" y1="539.35" x2="1234.9" y2="539.35" stroke="#000" stroke-width="1.3"/>
<line x1="1231.8" y1="531.24" x2="1234.9" y2="531.24" stroke="#000" stroke-width="1.3"/>
<line x1="1231.8" y1="524.61" x2="1234.9" y2="524.61" stroke="#000" stroke-width="1.3"/>
<line x1="1231.8" y1="519" x2="1234.9" y2="519" stroke="#000" stroke-width="1.3"/>
<line x1="1231.8" y1="514.15" x2="1234.9" y2="514.15" stroke="#000" stroke-width="1.3"/>
<line x1="1231.8" y1="509.86" x2="1234.9" y2="509.86" stroke="#000" stroke-width="1.3"/>
<line x1="1231.8" y1="480.82" x2="1234.9" y2="480.82" stroke="#000" stroke-width="1.3"/>
<line x1="1231.8" y1="466.08" x2="1234.9" y2="466.08" stroke="#000" stroke-width="1.3"/>
<line x1="1231.8" y1="455.62" x2="1234.9" y2="455.62" stroke="#000" stroke-width="1.3"/>
<line x1="1231.8" y1="447.51" x2="1234.9" y2="447.51" stroke="#000" stroke-width="1.3"/>
<line x1="1231.8" y1="440.88" x2="1234.9" y2="440.88" stroke="#000" stroke-width="1.3"/>
<line x1="1231.8" y1="435.27" x2="1234.9" y2="435.27" stroke="#000" stroke-width="1.3"/>
<line x1="1231.8" y1="430.41" x2="1234.9" y2="430.41" stroke="#000" stroke-width="1.3"/>
<line x1="1231.8" y1="426.13" x2="1234.9" y2="426.13" stroke="#000" stroke-width="1.3"/>
<line x1="1229" y1="673.5" x2="1557" y2="673.5" stroke="#000" stroke-width="2"/>
<line x1="1314.5" y1="673.5" x2="1314.5" y2="679.5" stroke="#000" stroke-width="2"/>
<line x1="1475.6" y1="673.5" x2="1475.6" y2="679.5" stroke="#000" stroke-width="2"/>
<clipPath id="c25"><rect x="-50" y="-200" width="2000" height="196.73"/><rect x="-50" y="-3.27" width="0" height="300"/><rect x="3.84" y="-3.27" width="2.78" height="300"/><rect x="10.08" y="-3.27" width="2000" height="300"/></clipPath>
<text transform="translate(1200.78,679.63) scale(0.977,1)" font-size="17.32" font-weight="bold" clip-path="url(#c25)">10</text>
<text transform="translate(1220.78,673.99) scale(0.983,1)" font-size="10.99" font-weight="bold">5</text>
<clipPath id="c26"><rect x="-50" y="-200" width="2000" height="196.73"/><rect x="-50" y="-3.27" width="0" height="300"/><rect x="3.84" y="-3.27" width="2.78" height="300"/><rect x="10.08" y="-3.27" width="2000" height="300"/></clipPath>
<text transform="translate(1200.78,595.9) scale(0.977,1)" font-size="17.32" font-weight="bold" clip-path="url(#c26)">10</text>
<text transform="translate(1220.78,590.26) scale(0.983,1)" font-size="10.99" font-weight="bold">6</text>
<clipPath id="c27"><rect x="-50" y="-200" width="2000" height="196.73"/><rect x="-50" y="-3.27" width="0" height="300"/><rect x="3.84" y="-3.27" width="2.78" height="300"/><rect x="10.08" y="-3.27" width="2000" height="300"/></clipPath>
<text transform="translate(1200.78,512.16) scale(0.977,1)" font-size="17.32" font-weight="bold" clip-path="url(#c27)">10</text>
<text transform="translate(1220.78,506.52) scale(0.983,1)" font-size="10.99" font-weight="bold">7</text>
<clipPath id="c28"><rect x="-50" y="-200" width="2000" height="196.73"/><rect x="-50" y="-3.27" width="0" height="300"/><rect x="3.84" y="-3.27" width="2.78" height="300"/><rect x="10.08" y="-3.27" width="2000" height="300"/></clipPath>
<text transform="translate(1200.78,428.43) scale(0.977,1)" font-size="17.32" font-weight="bold" clip-path="url(#c28)">10</text>
<text transform="translate(1220.78,422.79) scale(0.983,1)" font-size="10.99" font-weight="bold">8</text>
<line x1="1271.05" y1="544.7" x2="1271.05" y2="530.5" stroke="#000" stroke-width="2"/>
<line x1="1264" y1="530.5" x2="1278.1" y2="530.5" stroke="#000" stroke-width="2"/>
<rect x="1256.7" y="543.7" width="28.7" height="129.8" fill="#d5d5d5" stroke="#000" stroke-width="2" stroke-linejoin="round"/>
<line x1="1315" y1="530.2" x2="1315" y2="512" stroke="#000" stroke-width="2"/>
<line x1="1308.1" y1="512" x2="1322.2" y2="512" stroke="#000" stroke-width="2"/>
<rect x="1300.8" y="529.2" width="28.4" height="144.3" fill="#7f7f7f" stroke="#000" stroke-width="2" stroke-linejoin="round"/>
<line x1="1358.55" y1="586.4" x2="1358.55" y2="580" stroke="#000" stroke-width="2"/>
<line x1="1351.8" y1="580" x2="1365.8" y2="580" stroke="#000" stroke-width="2"/>
<rect x="1344.2" y="585.4" width="28.7" height="88.1" fill="#323232" stroke="#000" stroke-width="2" stroke-linejoin="round"/>
<line x1="1431.7" y1="536" x2="1431.7" y2="516.2" stroke="#000" stroke-width="2"/>
<line x1="1424.4" y1="516.2" x2="1438.7" y2="516.2" stroke="#000" stroke-width="2"/>
<rect x="1417.4" y="535" width="28.6" height="138.5" fill="#d5d5d5" stroke="#000" stroke-width="2" stroke-linejoin="round"/>
<line x1="1475.55" y1="550.2" x2="1475.55" y2="532.2" stroke="#000" stroke-width="2"/>
<line x1="1468.1" y1="532.2" x2="1482.5" y2="532.2" stroke="#000" stroke-width="2"/>
<rect x="1461.4" y="549.2" width="28.3" height="124.3" fill="#7f7f7f" stroke="#000" stroke-width="2" stroke-linejoin="round"/>
<line x1="1519.4" y1="583.2" x2="1519.4" y2="577.1" stroke="#000" stroke-width="2"/>
<line x1="1512.2" y1="577.1" x2="1526.2" y2="577.1" stroke="#000" stroke-width="2"/>
<rect x="1505.3" y="582.2" width="28.2" height="91.3" fill="#323232" stroke="#000" stroke-width="2" stroke-linejoin="round"/>
<text transform="translate(1355.45,573.53) scale(1.034,1)" font-size="16.86" stroke="#000" stroke-width="0.35">*</text>
<text transform="translate(1516.66,568.43) scale(1.017,1)" font-size="16.57" stroke="#000" stroke-width="0.35">*</text>
<text transform="translate(1280.01,696.05) scale(1.060,1)" font-size="15.49"><tspan font-style="italic">S. aureus</tspan></text>
<clipPath id="c29"><rect x="-50" y="-200" width="2000" height="197.34"/><rect x="-50" y="-2.66" width="61.54" height="300"/><rect x="14.88" y="-2.66" width="1.77" height="300"/><rect x="19.88" y="-2.66" width="11.46" height="300"/><rect x="34.69" y="-2.66" width="1.77" height="300"/><rect x="39.69" y="-2.66" width="2000" height="300"/></clipPath>
<text transform="translate(1412.66,696.05) scale(1.081,1)" font-size="15.49" clip-path="url(#c29)">H1N1+<tspan font-style="italic">S. aureus</tspan></text>
<rect x="1557" y="425.3" width="19.9" height="7.4" rx="1.5" fill="#d5d5d5" stroke="#000" stroke-width="2.2"/>
<text transform="translate(1588.71,434.25) scale(0.976,1)" font-size="15.21">DMSO</text>
<rect x="1557" y="448" width="19.9" height="7.4" rx="1.5" fill="#7f7f7f" stroke="#000" stroke-width="2.2"/>
<clipPath id="c30"><rect x="-50" y="-200" width="2000" height="197.49"/><rect x="-50" y="-2.51" width="68.33" height="300"/><rect x="21.22" y="-2.51" width="1.59" height="300"/><rect x="25.61" y="-2.51" width="2000" height="300"/></clipPath>
<text transform="translate(1589.18,456.36) scale(1.066,1)" font-size="13.52" clip-path="url(#c30)">CI-1040</text>
<rect x="1557" y="471.3" width="19.9" height="7.1" rx="1.5" fill="#323232" stroke="#000" stroke-width="2.2"/>
<text transform="translate(1589.9,479.66) scale(1.019,1)" font-size="14.37">ATR-002</text>
<text transform="translate(1179.16,684.25) rotate(-90)" font-size="16.38" font-weight="bold">intracellular bacterial titer [CFU/ml]</text>
<text transform="translate(1176.48,386) scale(1.132,1)" font-size="31.64" font-weight="bold">f</text>
</svg>
</body></html>
